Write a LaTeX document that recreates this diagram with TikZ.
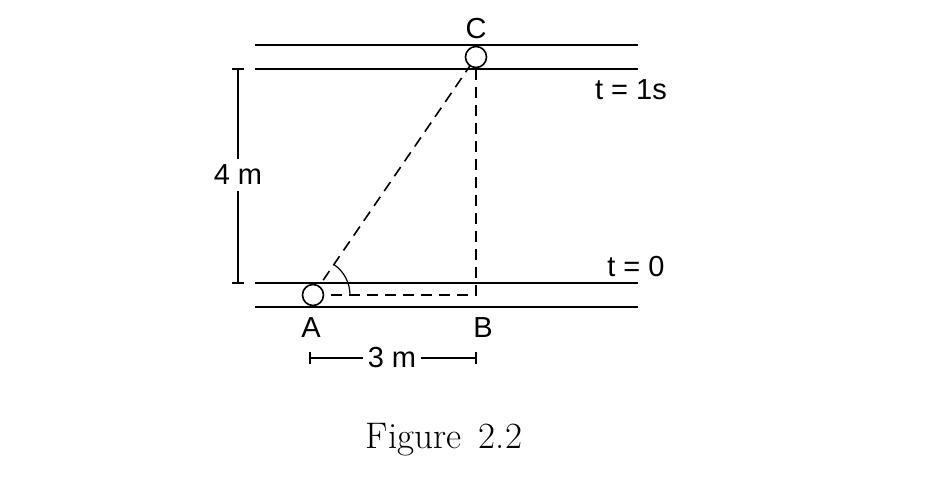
\documentclass[tikz,border=0pt]{standalone}
\usepackage{fontspec}
\setmainfont{Latin Modern Roman}
\newfontfamily\lab{Liberation Sans}
\usetikzlibrary{calc}
\begin{document}
\begin{tikzpicture}[x=0.5pt,y=-0.5pt,
  rail/.style={line width=0.85pt},
  dsh/.style={line width=0.8pt,dash pattern=on 5.5pt off 3.5pt},
  ball/.style={circle,draw,line width=0.8pt,minimum size=10.5pt,inner sep=0pt,fill=white},
  lbl/.style={font=\lab\fontsize{14.5}{16}\selectfont,inner sep=1pt},
  dim/.style={line width=0.6pt}]
\useasboundingbox (0,0) rectangle (927,484);
% rails
\draw[rail] (255,45) -- (638,45);
\draw[rail] (255,69) -- (638,69);
\draw[rail] (255,283) -- (638,283);
\draw[rail] (255,307) -- (638,307);
% points
\coordinate (A0) at (313,295);
\coordinate (B0) at (476,295);
\coordinate (C0) at (476,57);
\draw[dsh] (A0) -- (B0) -- (C0);
\draw[dsh] (A0) -- (C0);
\node[ball] (A) at (A0) {};
\node[ball] (C) at (C0) {};
% angle arc
\draw[line width=0.6pt] ($(A0)+(37,0)$) arc[start angle=0,end angle=55.6,x radius=37,y radius=-37];
% labels
\node[lbl] (lC) at (476,29) {C};
\node[lbl] (lA) at (311,328) {A};
\node[lbl] (lB) at (483,328) {B};
\node[lbl] (t1) at (631,90) {t = 1s};
\node[lbl] (t0) at (636,267) {t = 0};
% 4 m dimension
\node[lbl,inner sep=3pt] (d4) at (238,175) {4 m};
\coordinate (v1) at (238,69);
\coordinate (v2) at (238,283);
\draw[dim] (v1) -- (d4.north);
\draw[dim] (d4.south) -- (v2);
\draw[dim] (232,69) -- (244,69);
\draw[dim] (232,283) -- (244,283);
% 3 m dimension
\node[lbl,inner sep=2pt] (d3) at (392,358) {3 m};
\coordinate (h1) at (310,358);
\coordinate (h2) at (476,358);
\draw[dim] (h1) -- (d3.west);
\draw[dim] (d3.east) -- (h2);
\draw[dim] (310,352) -- (310,364);
\draw[dim] (476,352) -- (476,364);
% caption
\node[font=\fontsize{18.5}{22}\selectfont] (cap) at (444,440) {Figure\ \,2.2};
\end{tikzpicture}
\end{document}
